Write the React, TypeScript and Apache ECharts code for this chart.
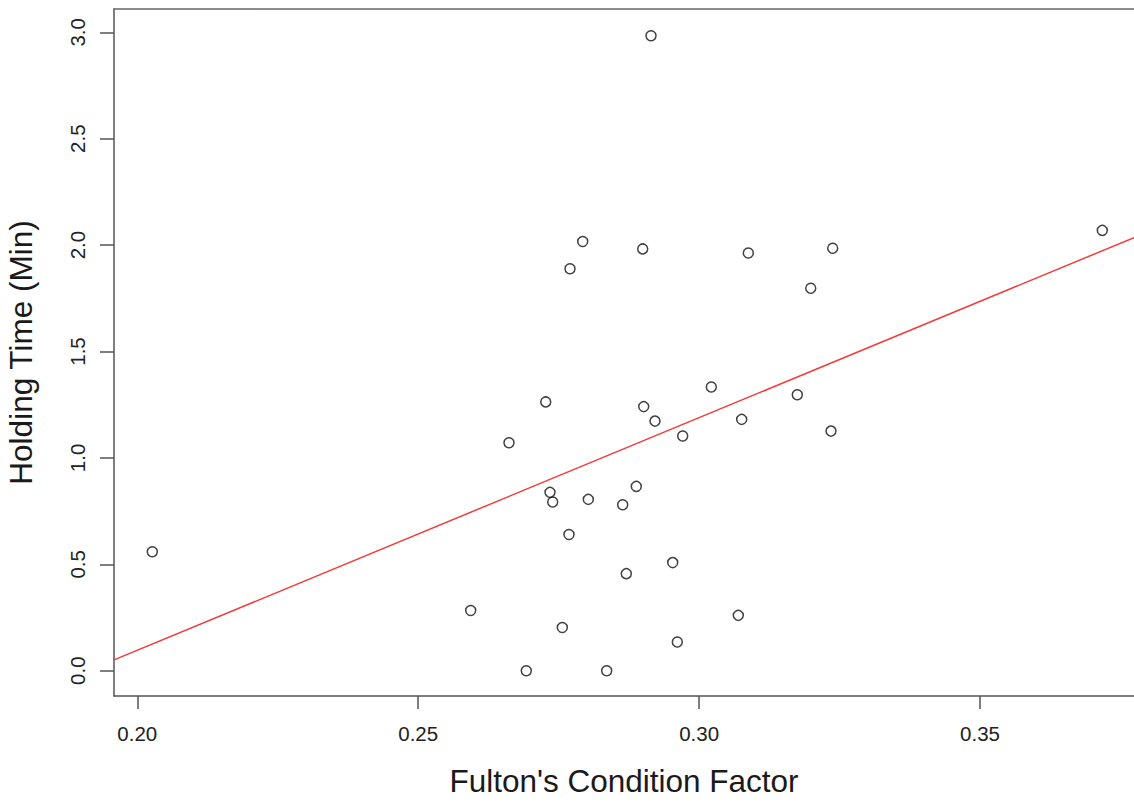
import React, { useEffect, useRef } from "react";
import * as echarts from "echarts";

// Fulton's condition factor (x) and holding time in minutes (y)
const conditionFactor = [
  0.2727, 0.26616, 0.29014, 0.29215, 0.29708, 0.27346, 0.27394, 0.28028,
  0.2864, 0.28882, 0.27684, 0.2953, 0.28704, 0.25934, 0.27565, 0.29612,
  0.26924, 0.28355, 0.30217, 0.31748, 0.30758, 0.32348, 0.30698, 0.27928,
  0.27702, 0.28996, 0.30876, 0.32378, 0.31987, 0.29144, 0.20267, 0.37177,
];
const holdingTime = [
  1.263, 1.071, 1.241, 1.173, 1.103, 0.838, 0.793, 0.805,
  0.78, 0.866, 0.64, 0.508, 0.456, 0.283, 0.203, 0.135,
  0.0, 0.0, 1.333, 1.297, 1.181, 1.126, 0.26, 2.017,
  1.889, 1.982, 1.963, 1.985, 1.797, 2.984, 0.559, 2.069,
];

// fitted regression line
const fitIntercept = -2.09;
const fitSlope = 10.93;

// axis ranges and tick values
const xRange = [0.195853, 0.377412];
const yRange = [-0.1189, 3.1095];
const xTicks = [0.2, 0.25, 0.3, 0.35];
const yTicks = [0, 0.5, 1, 1.5, 2, 2.5, 3];

const xTitle = "Fulton's Condition Factor";
const yTitle = "Holding Time (Min)";

export default function App() {
  const ref = useRef<HTMLDivElement>(null);

  useEffect(() => {
    document.body.style.margin = "0";
    if (!ref.current) return;
    const chart = echarts.init(ref.current, undefined, { renderer: "svg" });
    const font = "'Liberation Sans', Arial, Helvetica, sans-serif";
    const points = conditionFactor.map((x, i) => [x, holdingTime[i]]);
    const fitLine = xRange.map((x) => [x, fitIntercept + fitSlope * x]);

    chart.setOption({
      animation: false,
      backgroundColor: "#ffffff",
      textStyle: { fontFamily: font },
      grid: {
        left: 114,
        right: 0,
        top: 9,
        bottom: 106,
        containLabel: false,
        outerBoundsMode: "none",
      },
      xAxis: [
        {
          type: "value",
          min: xRange[0],
          max: xRange[1],
          position: "bottom",
          name: xTitle,
          nameLocation: "middle",
          nameGap: 69,
          nameTextStyle: { fontSize: 31.5, color: "#1a1a1a", fontFamily: font },
          axisLine: { show: true, onZero: false, lineStyle: { color: "#555", width: 1.5 } },
          axisTick: {
            show: true,
            length: 13,
            customValues: xTicks,
            lineStyle: { color: "#555", width: 1.5 },
          },
          axisLabel: {
            show: true,
            customValues: xTicks,
            margin: 27,
            fontSize: 20.5,
            color: "#222",
            fontFamily: font,
            formatter: (v: number) => v.toFixed(2),
          },
          splitLine: { show: false },
        },
        {
          type: "value",
          min: xRange[0],
          max: xRange[1],
          position: "top",
          axisLine: { show: true, onZero: false, lineStyle: { color: "#666", width: 1.5 } },
          axisTick: { show: false },
          axisLabel: { show: false },
          splitLine: { show: false },
        },
      ],
      yAxis: {
        type: "value",
        min: yRange[0],
        max: yRange[1],
        name: yTitle,
        nameLocation: "middle",
        nameGap: 77,
        nameRotate: 90,
        nameTextStyle: { fontSize: 31.5, color: "#1a1a1a", fontFamily: font },
        axisLine: { show: true, onZero: false, lineStyle: { color: "#555", width: 1.5 } },
        axisTick: {
          show: true,
          length: 14,
          customValues: yTicks,
          lineStyle: { color: "#555", width: 1.5 },
        },
        axisLabel: {
          show: true,
          customValues: yTicks,
          rotate: 90,
          margin: 26,
          fontSize: 20.5,
          color: "#222",
          fontFamily: font,
          formatter: (v: number) => v.toFixed(1),
        },
        splitLine: { show: false },
      },
      series: [
        {
          type: "scatter",
          data: points,
          symbol: "circle",
          symbolSize: 10,
          itemStyle: { color: "rgba(255,255,255,0)", borderColor: "#111", borderWidth: 1.5 },
          z: 3,
        },
        {
          type: "line",
          data: fitLine,
          symbol: "none",
          lineStyle: { color: "#f23c3c", width: 1.5 },
          clip: true,
          z: 2,
        },
      ],
    });

    return () => chart.dispose();
  }, []);

  return <div ref={ref} style={{ width: 1134, height: 802 }} />;
}
